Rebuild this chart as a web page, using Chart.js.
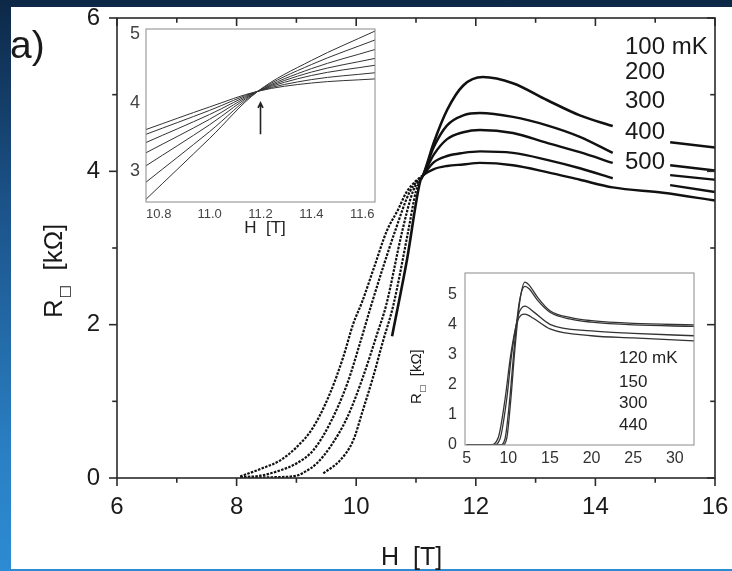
<!DOCTYPE html>
<html>
<head>
<meta charset="utf-8">
<script src="https://cdn.jsdelivr.net/npm/chart.js@4.4.1/dist/chart.umd.min.js"></script>
<style>
  html, body { margin: 0; padding: 0; }
  body {
    width: 732px; height: 571px; overflow: hidden; position: relative;
    background: linear-gradient(to bottom, #0d2847 0%, #1b5288 35%, #2a80c4 80%, #2d8bd3 100%);
  }
  #paper { position: absolute; left: 11px; top: 7px; width: 721px; height: 562px; background: #fff; }
  canvas { position: absolute; }
</style>
</head>
<body>
<div id="paper"></div>
<canvas id="main" width="732" height="571" style="left:0;top:0"></canvas>
<canvas id="insetTop" width="290" height="225" style="left:100px;top:20px"></canvas>
<canvas id="insetBottom" width="310" height="210" style="left:400px;top:262px"></canvas>
<script>
'use strict';

// ---- main panel: R vs H for five temperatures ----
const tempLabels = ['100 mK', '200', '300', '400', '500'];

const field100 = [10.6, 10.85, 11.07, 11.12, 11.3, 11.52, 11.79, 12.12, 12.62, 13.19, 13.74, 14.29, 14.8, 15.25, 16.0];
const res100   = [1.85, 2.85, 3.87, 3.95, 4.38, 4.80, 5.12, 5.23, 5.15, 4.93, 4.73, 4.59, null, 4.38, 4.31];

const field200 = [9.45, 9.73, 9.95, 10.11, 10.28, 10.45, 10.62, 10.87, 11.0, 11.12, 11.3, 11.52, 11.79, 12.07, 12.62, 13.19, 13.74, 14.29, 14.8, 15.25, 16.0];
const res200   = [0.06, 0.23, 0.49, 0.88, 1.31, 1.79, 2.25, 3.22, 3.74, 3.95, 4.32, 4.60, 4.73, 4.76, 4.71, 4.60, 4.45, 4.24, null, 4.08, 4.01];

const field300 = [8.06, 8.6, 9.0, 9.14, 9.34, 9.56, 9.85, 10.11, 10.35, 10.5, 10.77, 10.95, 11.12, 11.3, 11.52, 11.79, 12.07, 12.62, 13.19, 13.74, 14.29, 14.8, 15.25, 16.0];
const res300   = [0.0, 0.01, 0.03, 0.08, 0.19, 0.40, 0.79, 1.31, 1.88, 2.25, 3.22, 3.74, 3.95, 4.22, 4.42, 4.51, 4.54, 4.50, 4.37, 4.25, 4.11, null, 3.95, 3.89];

const field400 = [8.06, 8.4, 8.73, 9.0, 9.28, 9.56, 9.85, 10.06, 10.25, 10.45, 10.65, 10.9, 11.12, 11.3, 11.52, 11.79, 12.07, 12.62, 13.19, 13.74, 14.29, 14.8, 15.25, 16.0];
const res400   = [0.01, 0.03, 0.10, 0.19, 0.36, 0.71, 1.23, 1.75, 2.25, 2.75, 3.22, 3.74, 3.95, 4.12, 4.20, 4.24, 4.26, 4.24, 4.15, 4.04, 3.91, null, 3.82, 3.73];

const field500 = [8.06, 8.44, 8.73, 9.0, 9.28, 9.56, 9.78, 9.95, 10.1, 10.3, 10.51, 10.7, 10.85, 11.12, 11.3, 11.52, 11.79, 12.07, 12.62, 13.19, 13.74, 14.29, 15.13, 16.0];
const res500   = [0.02, 0.13, 0.23, 0.40, 0.66, 1.10, 1.57, 2.01, 2.30, 2.75, 3.22, 3.50, 3.74, 3.95, 4.03, 4.07, 4.09, 4.11, 4.08, 3.99, 3.89, 3.79, 3.72, 3.62];

const crossField = 11.12;   // below this the measured curves are dotted
const mainXTicks = [6, 8, 10, 12, 14, 16];
const mainXMinor = [7, 9, 11, 13, 15];
const mainYTicks = [0, 2, 4, 6];
const mainYMinor = [1, 3, 5];

// ---- upper inset: zoom on the crossing point ----
const zoomField = [10.75, 11.0, 11.19, 11.4, 11.65];
const zoomCurve1 = [2.59, 3.48, 4.17, 4.62, 5.05];
const zoomCurve2 = [2.84, 3.58, 4.17, 4.56, 4.92];
const zoomCurve3 = [3.08, 3.68, 4.17, 4.50, 4.78];
const zoomCurve4 = [3.27, 3.76, 4.17, 4.45, 4.65];
const zoomCurve5 = [3.42, 3.83, 4.17, 4.40, 4.55];
const zoomCurve6 = [3.54, 3.89, 4.17, 4.34, 4.44];
const zoomCurve7 = [3.61, 3.94, 4.17, 4.29, 4.35];
const zoomXTicks = [10.8, 11.0, 11.2, 11.4, 11.6];
const zoomYTicks = [3, 4, 5];
const arrowField = 11.2;
const arrowRes = [3.54, 4.0];

// ---- lower inset: wide field range ----
const wideLabels = ['120 mK', '150', '300', '440'];
const wideField120 = [5, 9.3, 9.8, 10.3, 10.8, 11.4, 12.0, 12.5, 13.5, 15, 17.5, 20, 25, 32.3];
const wideRes120   = [0, 0, 0.2, 1.5, 3.2, 4.8, 5.40, 5.30, 4.9, 4.45, 4.22, 4.12, 4.03, 3.98];
const wideField150 = [5, 9.0, 9.6, 10.2, 10.7, 11.3, 12.0, 12.5, 13.5, 15, 17.5, 20, 25, 32.3];
const wideRes150   = [0, 0, 0.2, 1.6, 3.2, 4.7, 5.26, 5.18, 4.8, 4.40, 4.17, 4.07, 3.98, 3.93];
const wideField300 = [5, 8.2, 9.0, 9.8, 10.4, 11.2, 12.0, 13, 15, 20, 25, 32.3];
const wideRes300   = [0, 0, 0.2, 1.5, 3.0, 4.3, 4.6, 4.42, 4.0, 3.78, 3.70, 3.62];
const wideField440 = [5, 7.8, 8.8, 9.6, 10.3, 11.1, 12.0, 13, 15, 20, 25, 32.3];
const wideRes440   = [0, 0, 0.25, 1.5, 3.0, 4.1, 4.34, 4.2, 3.85, 3.62, 3.55, 3.45];
const wideXTicks = [5, 10, 15, 20, 25, 30];
const wideYTicks = [0, 1, 2, 3, 4, 5];

const FONT = '"Liberation Sans", Arial, Helvetica, sans-serif';

function toPoints(xs, ys) {
    return xs.map((x, i) => ({ x: x, y: ys[i] }));
}

function fixedTicks(values) {
    return function(scale) {
        scale.ticks = values.map(v => ({ value: v }));
    };
}

// fixes the axis box size and drops the extra room Chart.js keeps for edge labels
function fixSize(prop, size) {
    return function(scale) {
        scale[prop] = size;
        scale.paddingTop = 0;
        scale.paddingBottom = 0;
        scale.paddingLeft = 0;
        scale.paddingRight = 0;
    };
}

// draws the plot frame and tick marks by hand (minor ticks, inward top/right)
function drawFrame(chart, o) {
    const ctx = chart.ctx;
    const a = chart.chartArea;
    const xs = chart.scales.x;
    const ys = chart.scales.y;
    ctx.save();
    ctx.strokeStyle = o.color;
    ctx.lineWidth = o.width;
    ctx.strokeRect(a.left, a.top, a.right - a.left, a.bottom - a.top);
    const tick = (x1, y1, x2, y2) => {
        ctx.beginPath();
        ctx.moveTo(x1, y1);
        ctx.lineTo(x2, y2);
        ctx.stroke();
    };
    (o.xMajor || []).forEach(v => {
        const px = xs.getPixelForValue(v);
        tick(px, a.bottom, px, a.bottom + o.outLen);
        if (o.topTicks) tick(px, a.top, px, a.top + o.inLen);
    });
    (o.xMinor || []).forEach(v => {
        const px = xs.getPixelForValue(v);
        tick(px, a.bottom, px, a.bottom + o.outLen * 0.6);
        if (o.topTicks) tick(px, a.top, px, a.top + o.inLen * 0.6);
    });
    (o.yMajor || []).forEach(v => {
        const py = ys.getPixelForValue(v);
        tick(a.left - o.outLen, py, a.left, py);
        if (o.rightTicks) tick(a.right - o.inLen, py, a.right, py);
    });
    (o.yMinor || []).forEach(v => {
        const py = ys.getPixelForValue(v);
        tick(a.left - o.outLen * 0.6, py, a.left, py);
        if (o.rightTicks) tick(a.right - o.inLen * 0.6, py, a.right, py);
    });
    ctx.restore();
}

// rotated "R□ [kΩ]" axis title
function drawResTitle(ctx, x, y, size) {
    ctx.save();
    ctx.translate(x, y);
    ctx.rotate(-Math.PI / 2);
    ctx.fillStyle = '#1a1a1a';
    ctx.textAlign = 'left';
    ctx.textBaseline = 'alphabetic';
    ctx.font = size + 'px ' + FONT;
    ctx.fillText('R', 0, 0);
    let w = ctx.measureText('R').width;
    ctx.font = Math.round(size * 0.55) + 'px "DejaVu Sans", sans-serif';
    ctx.fillText('□', w + 1, size * 0.28);
    w += ctx.measureText('□').width + 1;
    ctx.font = size + 'px ' + FONT;
    ctx.fillText('  [kΩ]', w, 0);
    ctx.restore();
}

function measuredLine(xs, ys, dotted, width) {
    return {
        data: toPoints(xs, ys),
        borderColor: '#111',
        borderWidth: width,
        pointRadius: 0,
        fill: false,
        spanGaps: false,
        cubicInterpolationMode: 'monotone',
        segment: dotted ? {
            borderDash: ctx => ctx.p1.parsed.x <= crossField ? [2.5, 1.3] : undefined,
            borderWidth: ctx => ctx.p1.parsed.x <= crossField ? 2.2 : undefined
        } : {}
    };
}

const mainText = {
    id: 'mainText',
    afterDatasetsDraw(chart) {
        drawFrame(chart, {
            color: '#2a2a2a', width: 1.6, outLen: 8, inLen: 8,
            xMajor: mainXTicks, xMinor: mainXMinor, yMajor: mainYTicks, yMinor: mainYMinor,
            topTicks: true, rightTicks: true
        });
        const ctx = chart.ctx;
        ctx.save();
        ctx.fillStyle = '#1a1a1a';
        ctx.font = '39px ' + FONT;
        ctx.textAlign = 'left';
        ctx.textBaseline = 'alphabetic';
        ctx.fillText('a)', 10, 58);

        ctx.font = '25px ' + FONT;
        ctx.fillText('H  [T]', 381, 565);

        ctx.font = '24px ' + FONT;
        ctx.textBaseline = 'middle';
        const labelY = [47, 72, 101, 132, 162];
        tempLabels.forEach((t, i) => ctx.fillText(t, 625, labelY[i]));
        ctx.restore();

        drawResTitle(ctx, 62, 318, 26);
    }
};

new Chart(document.getElementById('main'), {
    type: 'line',
    data: {
        datasets: [
            measuredLine(field100, res100, false, 2.6),
            measuredLine(field200, res200, true, 2.4),
            measuredLine(field300, res300, true, 2.4),
            measuredLine(field400, res400, true, 2.4),
            measuredLine(field500, res500, true, 2.4)
        ]
    },
    options: {
        responsive: false,
        animation: false,
        devicePixelRatio: 1,
        layout: { padding: { top: 18, right: 17, left: 0, bottom: 0 } },
        plugins: { legend: { display: false }, tooltip: { enabled: false } },
        scales: {
            x: {
                type: 'linear', min: 6, max: 16,
                grid: { display: false, drawTicks: false },
                border: { display: false },
                afterBuildTicks: fixedTicks(mainXTicks),
                afterFit: fixSize('height', 93),
                ticks: { color: '#1a1a1a', padding: 15, font: { size: 24, family: FONT }, maxRotation: 0 }
            },
            y: {
                type: 'linear', min: 0, max: 6,
                grid: { display: false, drawTicks: false },
                border: { display: false },
                afterBuildTicks: fixedTicks(mainYTicks),
                afterFit: fixSize('width', 117),
                ticks: { color: '#1a1a1a', padding: 17, font: { size: 24, family: FONT } }
            }
        }
    },
    plugins: [mainText]
});

// ---- upper inset ----
const zoomCurves = [zoomCurve1, zoomCurve2, zoomCurve3, zoomCurve4, zoomCurve5, zoomCurve6, zoomCurve7];

const insetTopText = {
    id: 'insetTopText',
    afterDatasetsDraw(chart) {
        drawFrame(chart, { color: '#8a8a8a', width: 1, outLen: 0, inLen: 0 });
        const ctx = chart.ctx;
        const xs = chart.scales.x;
        const ys = chart.scales.y;
        ctx.save();
        // arrow marking the crossing field
        const ax = xs.getPixelForValue(arrowField);
        const y0 = ys.getPixelForValue(arrowRes[0]);
        const y1 = ys.getPixelForValue(arrowRes[1]);
        ctx.strokeStyle = '#222';
        ctx.lineWidth = 1.6;
        ctx.beginPath();
        ctx.moveTo(ax, y0);
        ctx.lineTo(ax, y1);
        ctx.moveTo(ax - 2.5, y1 + 5);
        ctx.lineTo(ax, y1);
        ctx.lineTo(ax + 2.5, y1 + 5);
        ctx.stroke();

        ctx.fillStyle = '#222';
        ctx.font = '17px ' + FONT;
        ctx.textAlign = 'center';
        ctx.textBaseline = 'alphabetic';
        ctx.fillText('H  [T]', 165, 213);
        ctx.restore();
    }
};

new Chart(document.getElementById('insetTop'), {
    type: 'line',
    data: {
        datasets: zoomCurves.map(c => ({
            data: toPoints(zoomField, c),
            borderColor: '#333',
            borderWidth: 1,
            pointRadius: 0,
            tension: 0.35
        }))
    },
    options: {
        responsive: false,
        animation: false,
        devicePixelRatio: 1,
        layout: { padding: { top: 9, right: 15, left: 0, bottom: 0 } },
        plugins: { legend: { display: false }, tooltip: { enabled: false } },
        scales: {
            x: {
                type: 'linear', min: 10.75, max: 11.65,
                grid: { display: false, drawTicks: false },
                border: { display: false },
                afterBuildTicks: fixedTicks(zoomXTicks),
                afterFit: fixSize('height', 43),
                ticks: {
                    color: '#444', padding: 5, maxRotation: 0,
                    font: { size: 13, family: FONT },
                    callback: v => v.toFixed(1)
                }
            },
            y: {
                type: 'linear', min: 2.55, max: 5.08,
                grid: { display: false, drawTicks: false },
                border: { display: false },
                afterBuildTicks: fixedTicks(zoomYTicks),
                afterFit: fixSize('width', 46),
                ticks: { color: '#444', padding: 6, font: { size: 18, family: FONT } }
            }
        }
    },
    plugins: [insetTopText]
});

// ---- lower inset ----
const insetBottomText = {
    id: 'insetBottomText',
    afterDatasetsDraw(chart) {
        drawFrame(chart, { color: '#8a8a8a', width: 1, outLen: 0, inLen: 0 });
        const ctx = chart.ctx;
        ctx.save();
        ctx.fillStyle = '#222';
        ctx.font = '17px ' + FONT;
        ctx.textAlign = 'left';
        ctx.textBaseline = 'middle';
        const labelY = [96, 120, 141, 163];
        wideLabels.forEach((t, i) => ctx.fillText(t, 219, labelY[i]));
        ctx.restore();
        drawResTitle(ctx, 21, 142, 15);
    }
};

new Chart(document.getElementById('insetBottom'), {
    type: 'line',
    data: {
        datasets: [
            [wideField120, wideRes120],
            [wideField150, wideRes150],
            [wideField300, wideRes300],
            [wideField440, wideRes440]
        ].map(([f, r]) => ({
            data: toPoints(f, r),
            borderColor: '#333',
            borderWidth: 1.3,
            pointRadius: 0,
            cubicInterpolationMode: 'monotone'
        }))
    },
    options: {
        responsive: false,
        animation: false,
        devicePixelRatio: 1,
        layout: { padding: { top: 11, right: 16, left: 0, bottom: 0 } },
        plugins: { legend: { display: false }, tooltip: { enabled: false } },
        scales: {
            x: {
                type: 'linear', min: 4.8, max: 32.3,
                grid: { display: false, drawTicks: false },
                border: { display: false },
                afterBuildTicks: fixedTicks(wideXTicks),
                afterFit: fixSize('height', 27),
                ticks: { color: '#333', padding: 4, maxRotation: 0, font: { size: 16, family: FONT } }
            },
            y: {
                type: 'linear', min: 0, max: 5.7,
                grid: { display: false, drawTicks: false },
                border: { display: false },
                afterBuildTicks: fixedTicks(wideYTicks),
                afterFit: fixSize('width', 65),
                ticks: { color: '#333', padding: 8, font: { size: 16, family: FONT } }
            }
        }
    },
    plugins: [insetBottomText]
});
</script>
</body>
</html>
